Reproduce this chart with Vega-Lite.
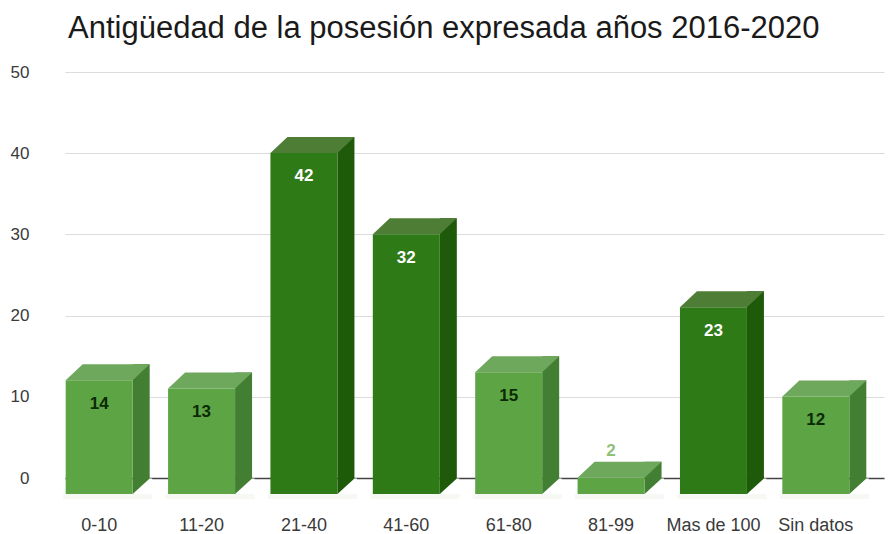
{
"$schema":"https://vega.github.io/schema/vega-lite/v6.json",
"width":824,"height":406,
"autosize":{"type":"none"},
"padding":{"left":65,"top":72,"right":1,"bottom":56},
"background":"white",
"title":{"text":"Antigüedad de la posesión expresada años 2016-2020","anchor":"start","frame":"group","fontSize":31,"font":"Liberation Sans","fontWeight":"normal","color":"#1a1a1a","dx":3,"offset":18},
"config":{"view":{"stroke":null},"font":"Liberation Sans"},
"data":{"values":[
{"rango":"0-10","valor":14},
{"rango":"11-20","valor":13},
{"rango":"21-40","valor":42},
{"rango":"41-60","valor":32},
{"rango":"61-80","valor":15},
{"rango":"81-99","valor":2},
{"rango":"Mas de 100","valor":23},
{"rango":"Sin datos","valor":12}
]},
"encoding":{
"x":{"field":"rango","type":"nominal","sort":null,"title":null,
"scale":{"type":"band","range":[0,819],"paddingInner":0,"paddingOuter":0},
"axis":{"labelAngle":0,"labelOffset":-17,"labelPadding":38,"labelFontSize":18,"labelColor":"#3a3a3a","labelFont":"Liberation Sans","ticks":false,"domain":true,"domainColor":"#444444","domainWidth":1.5,"grid":false}},
"y":{"field":"valor","type":"quantitative","title":null,
"scale":{"domain":[0,50],"nice":false},
"axis":{"values":[0,10,20,30,40,50],"labelPadding":36,"labelFontSize":17,"labelColor":"#3a3a3a","labelFont":"Liberation Sans","ticks":false,"domain":false,"grid":true,"gridColor":"#dcdcdc","gridWidth":1}}
},
"layer":[
{"mark":{"type":"point","filled":true,"size":10000,"opacity":1,"strokeWidth":0,"fill":"#f6f8f3","shape":"M -1.06 0.32 L 0.72 0.32 L 0.72 0.42 L -1.06 0.42 Z"},
 "encoding":{"y":{"datum":0}}},
{"mark":{"type":"bar","width":17,"xOffset":25,"y2Offset":16},
 "encoding":{"y2":{"datum":0},"color":{"field":"valor","type":"quantitative","legend":null,"scale":{"type":"threshold","domain":[20],"range":["#437f32","#1e5a0a"]}}}},
{"mark":{"type":"point","filled":true,"size":10000,"opacity":1,"strokeWidth":0,"fill":"white","shape":"M 0.67 0.01 L 0.72 0.01 L 0.72 0.32 L 0.33 0.32 Z"},
 "encoding":{"y":{"datum":0}}},
{"mark":{"type":"bar","width":67,"xOffset":-17,"yOffset":16,"y2Offset":16},
 "encoding":{"y2":{"datum":0},"color":{"field":"valor","type":"quantitative","legend":null,"scale":{"type":"threshold","domain":[20],"range":["#5da544","#2e7a16"]}}}},
{"mark":{"type":"point","filled":true,"size":10000,"opacity":1,"strokeWidth":0,"shape":"M -0.67 0 L 0.67 0 L 0.33 0.32 L -1.01 0.32 Z"},
 "encoding":{"color":{"field":"valor","type":"quantitative","legend":null,"scale":{"type":"threshold","domain":[20],"range":["#6ea85c","#4e7d36"]}}}},
{"transform":[{"filter":"datum.valor >= 5"}],
 "mark":{"type":"text","fontSize":17,"fontWeight":"bold","xOffset":-17,"yOffset":39.5},
 "encoding":{"text":{"field":"valor","type":"quantitative"},"color":{"field":"valor","type":"quantitative","legend":null,"scale":{"type":"threshold","domain":[20],"range":["#0b2a06","#ffffff"]}}}},
{"transform":[{"filter":"datum.valor < 5"}],
 "mark":{"type":"text","fontSize":17,"fontWeight":"bold","xOffset":-17,"yOffset":-11,"color":"#8fc07a"},
 "encoding":{"text":{"field":"valor","type":"quantitative"}}}
],
"resolve":{"scale":{"color":"independent"}}
}
